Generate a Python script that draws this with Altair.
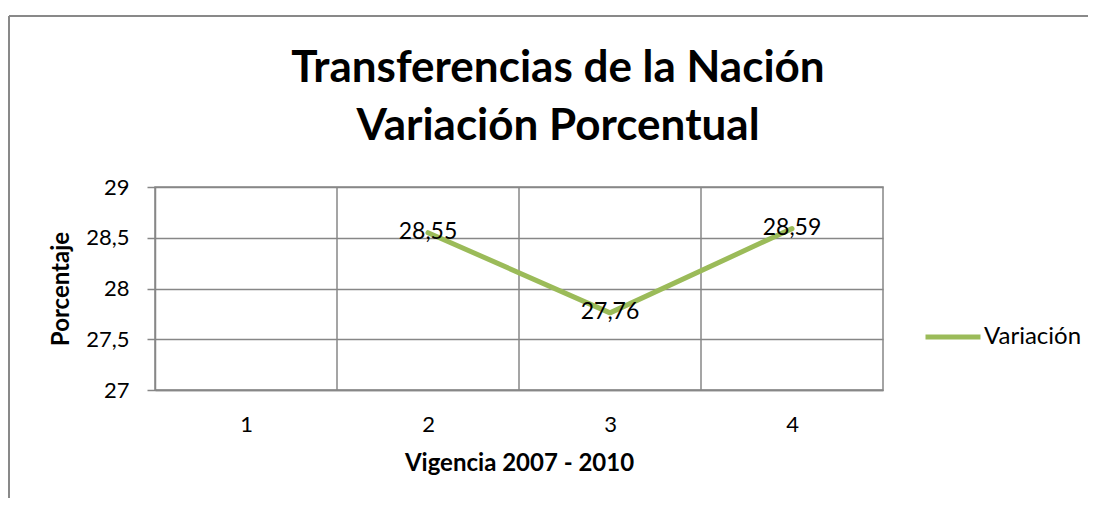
import altair as alt
import pandas as pd

categories = [1, 2, 3, 4]
values = [None, 28.55, 27.76, 28.59]
series_name = "Variación"
y_ticks = [27, 27.5, 28, 28.5, 29]
boundaries = [1.5, 2.5, 3.5]

title_lines = ["Transferencias de la Nación", "Variación Porcentual"]
x_title = "Vigencia 2007 - 2010"
y_title = "Porcentaje"

FONT = "Lato"
GREEN = "#9BBB59"
GRID = "#878787"

df = pd.DataFrame({"cat": categories, "val": values, "serie": [series_name] * len(categories)})
bdf = pd.DataFrame({"b": boundaries})

xscale = alt.Scale(domain=[0.5, 4.5], nice=False, zero=False)
yscale = alt.Scale(domain=[27, 29], nice=False, zero=False)

base = alt.Chart(df)

line = base.mark_line(strokeWidth=5, strokeCap="round", strokeJoin="round").encode(
    x=alt.X("cat:Q", scale=xscale, title=x_title,
            axis=alt.Axis(values=categories, grid=False, ticks=False, labelPadding=24,
                          titlePadding=16, format="d")),
    y=alt.Y("val:Q", scale=yscale, title=y_title,
            axis=alt.Axis(values=y_ticks, grid=True, tickSize=8, labelPadding=18,
                          titlePadding=12, format="~g",
                          labelExpr="replace(datum.label, '.', ',')")),
    color=alt.Color("serie:N", scale=alt.Scale(range=[GREEN]),
                    legend=alt.Legend(title=None, orient="none", legendX=768, legendY=120,
                                      symbolType="stroke", symbolSize=3025,
                                      symbolStrokeWidth=5, labelFontSize=24, labelFont=FONT,
                                      labelColor="#000000", padding=0, labelOffset=1)),
)

labels = base.transform_filter("isValid(datum.val)").transform_calculate(
    lab="replace(format(datum.val, '.2f'), '.', ',')"
).mark_text(font=FONT, fontSize=23, color="#000000", baseline="middle", align="center", dy=-1).encode(
    x=alt.X("cat:Q", scale=xscale),
    y=alt.Y("val:Q", scale=yscale),
    text="lab:N",
)

vgrid = alt.Chart(bdf).mark_rule(color=GRID, strokeWidth=1.5).encode(
    x=alt.X("b:Q", scale=xscale),
)

frame_top = alt.Chart(bdf).mark_rule(color=GRID, strokeWidth=1.5, clip=False).encode(
    x=alt.value(-146), x2=alt.value(960), y=alt.value(-171)
)
frame_left = alt.Chart(bdf).mark_rule(color=GRID, strokeWidth=1.5, clip=False).encode(
    x=alt.value(-146), y=alt.value(-171), y2=alt.value(330)
)

chart = alt.layer(frame_top, frame_left, vgrid, line, labels).properties(
    width=728,
    height=203,
    background="white",
    autosize=alt.AutoSizeParams(type="none"),
    padding={"left": 147, "top": 179, "right": 205, "bottom": 108},
    title=alt.TitleParams(text=title_lines, font=FONT, fontSize=44, fontWeight="bold",
                          color="#000000", lineHeight=58, anchor="middle", dx=39, offset=-134),
).configure_view(
    stroke=GRID, strokeWidth=1.5
).configure_axis(
    domainColor=GRID, domainWidth=1.5, gridColor=GRID, gridWidth=1.5, tickColor=GRID,
    tickWidth=1.5, labelFont=FONT, labelFontSize=22, labelColor="#000000",
    titleFont=FONT, titleFontSize=24, titleFontWeight="bold", titleColor="#000000",
)

chart.save("out.html", embed_options={"renderer": "svg", "actions": False})
